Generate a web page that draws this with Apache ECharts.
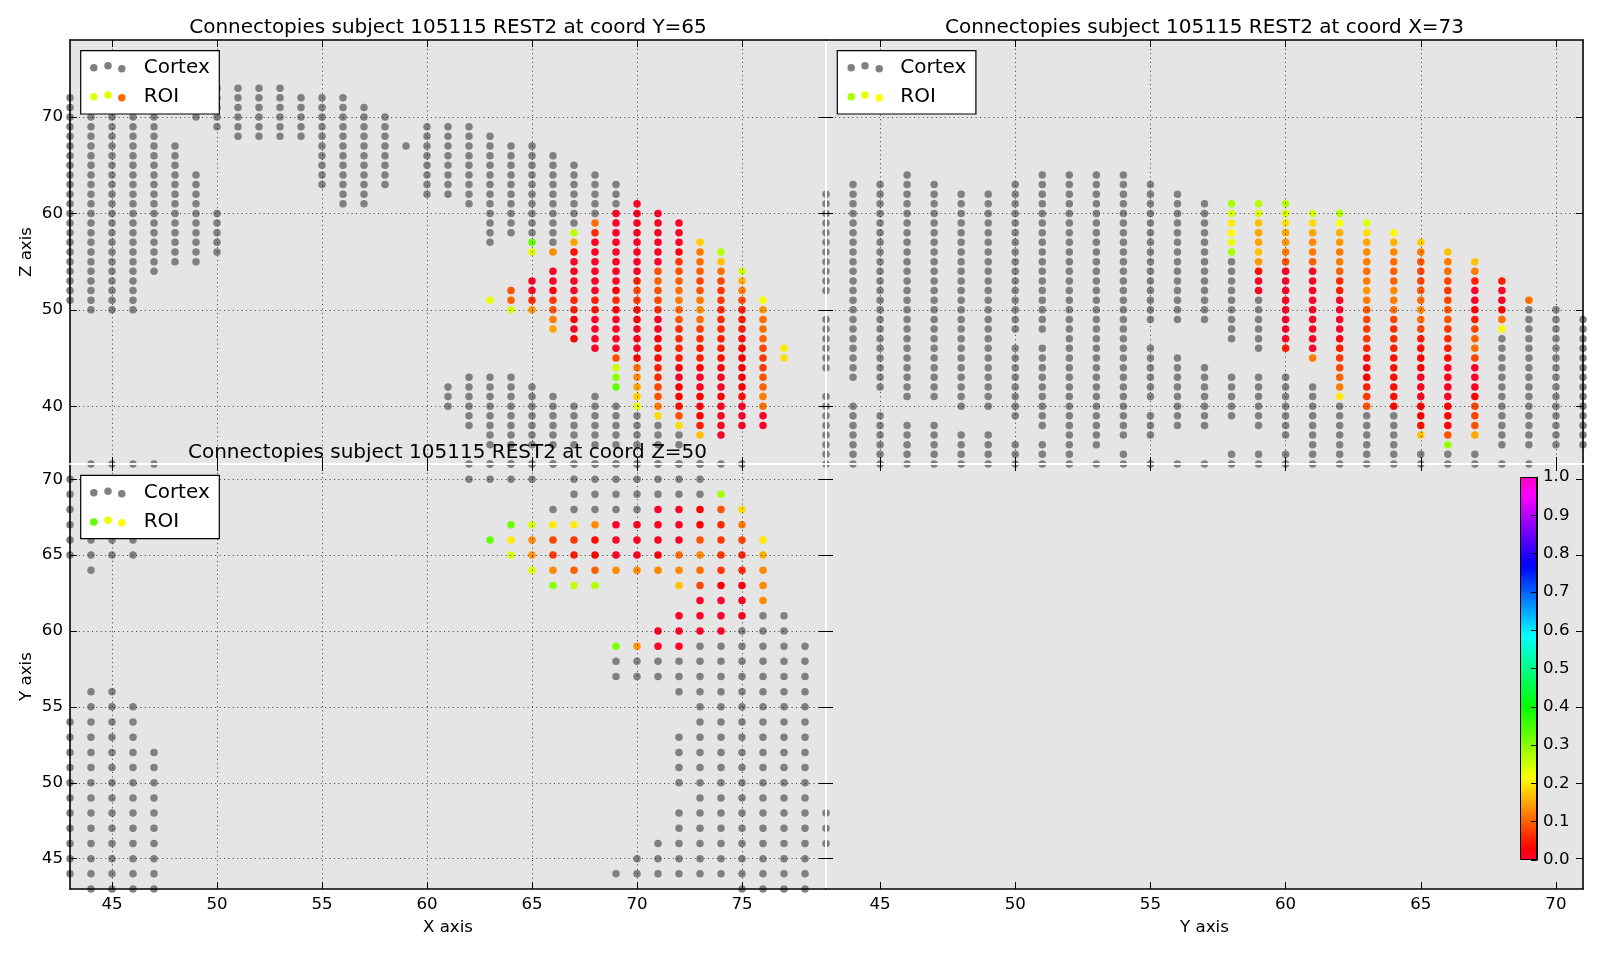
<!DOCTYPE html>
<html><head><meta charset="utf-8">
<style>html,body{margin:0;padding:0;background:#fff}#c{width:1600px;height:955px}</style>
<script src="https://cdn.jsdelivr.net/npm/echarts@6/dist/echarts.min.js"></script>
</head><body><div id="c"></div>
<script>
// ---- tick labels ----
const xTicks = [45,50,55,60,65,70,75];
const yTicks = [45,50,55,60,65,70];
const zTicks = [40,50,60,70];
const titles = ["Connectopies subject 105115 REST2 at coord Y=65","Connectopies subject 105115 REST2 at coord X=73","Connectopies subject 105115 REST2 at coord Z=50"];

// ---- cortex voxels: [column, [[from,to],...]] ----
const cortexXZ = [[43,[[51,72]]],[44,[[50,72]]],[45,[[50,70]]],[46,[[50,70]]],[47,[[54,70]]],[48,[[55,67]]],[49,[[55,64],[70,70]]],[50,[[56,60],[69,73]]],[51,[[68,73]]],[52,[[68,73]]],[53,[[68,73]]],[54,[[68,72]]],[55,[[63,72]]],[56,[[61,72]]],[57,[[61,71]]],[58,[[63,70]]],[59,[[67,67]]],[60,[[62,69]]],[61,[[62,69],[40,42]]],[62,[[61,69],[38,43]]],[63,[[57,68],[36,43],[34,34]]],[64,[[58,67],[36,43],[34,34]]],[65,[[58,67],[36,42],[34,34]]],[66,[[57,66],[36,41],[34,34]]],[67,[[59,65],[36,40],[34,34]]],[68,[[60,64],[36,41],[34,34]]],[69,[[61,63],[36,40],[34,34]]],[70,[[36,39],[34,34]]],[71,[[36,38],[34,34]]],[72,[[36,37],[34,34]]],[73,[[34,34]]],[74,[[34,34]]],[75,[[34,34]]]];
const cortexYZ = [[43,[[34,41],[44,49],[52,62]]],[44,[[34,40],[43,63]]],[45,[[34,39],[42,63]]],[46,[[34,38],[41,64]]],[47,[[34,38],[41,63]]],[48,[[34,37],[40,62]]],[49,[[34,37],[40,62]]],[50,[[34,36],[39,46],[48,63]]],[51,[[34,36],[38,46],[48,64]]],[52,[[34,64]]],[53,[[34,34],[36,64]]],[54,[[34,35],[37,64]]],[55,[[34,34],[37,39],[41,46],[49,63]]],[56,[[34,34],[38,45],[49,62]]],[57,[[34,34],[38,44],[49,61]]],[58,[[34,35],[39,43],[47,55]]],[59,[[34,35],[38,43],[46,51]]],[60,[[34,35],[37,43]]],[61,[[34,42]]],[62,[[34,40]]],[63,[[34,39]]],[64,[[34,39]]],[65,[[34,35]]],[66,[[34,35]]],[67,[[34,35]]],[68,[[34,34],[36,47]]],[69,[[34,34],[36,50]]],[70,[[36,50]]],[71,[[36,49]]]];
const cortexXY = [[43,[[44,54],[65,70]]],[44,[[43,56],[64,71]]],[45,[[43,56],[65,71]]],[46,[[43,55],[65,71]]],[47,[[43,52],[71,71]]],[62,[[70,71]]],[63,[[70,71]]],[64,[[70,71]]],[65,[[70,71]]],[66,[[68,68],[71,71]]],[67,[[68,71]]],[68,[[68,71]]],[69,[[44,44],[57,58],[68,71]]],[70,[[44,45],[57,58],[68,71]]],[71,[[44,46],[57,58],[69,71]]],[72,[[44,48],[50,53],[56,58],[69,71]]],[73,[[44,59],[69,71]]],[74,[[44,59]]],[75,[[43,60]]],[76,[[43,61]]],[77,[[43,61]]],[78,[[43,59]]],[79,[[46,48]]]];

// ---- ROI connectopy values: [column, top row, values going down] ----
const roiXZ = [[63,51,[.23]],[64,52,[.09,.10,.24]],[65,57,[.33,.24,null,null,.002,.002,.06,.14]],[66,56,[.13,null,.002,.002,.02,.07,.09,.12,.15]],[67,58,[.26,.15,.04,.002,.002,.002,.002,.06,.05,.03,.002,.03]],[68,59,[.11,.06,.002,.002,.002,.002,.002,.002,.05,.04,.002,.002,.002,.002]],[69,60,[.002,.002,.002,.002,.002,.002,.002,.002,.03,.06,.03,.002,.002,.002,.002,.09,.25,.30,.33]],[70,61,[.002,.002,.002,.002,.002,.002,.002,.002,.05,.08,.07,.04,.02,.002,.002,.002,.03,.11,.13,.15,.18,.23]],[71,60,[.002,.002,.002,.002,.002,.002,.09,.10,.09,.08,.06,.002,.002,.03,.04,.04,.05,.06,.08,.09,.12,.19]],[72,59,[.002,.002,.002,.02,.07,.09,.10,.11,.12,.10,.09,.06,.06,.06,.05,.03,.002,.03,.03,.04,.09,.19]],[73,57,[.18,.12,.11,.10,.08,.09,.12,.13,.11,.07,.06,.05,.05,.03,.002,.002,.03,.02,.03,.05,.17]],[74,56,[.27,.17,.11,.08,.07,.07,.06,.06,.06,.05,.05,.04,.02,.002,.002,.03,.002,.002,.002,.002]],[75,54,[.25,.16,.12,.08,.05,.05,.05,.04,.03,.03,.03,.02,.03,.04,.002,.002,.002]],[76,51,[.22,.14,.11,.11,.10,.08,.07,.07,.09,.10,.12,.11,.002,.002]],[77,46,[.20,.19]]];
const roiYZ = [[58,61,[.28,.24,.20,.21,.23,.28]],[59,61,[.27,.24,.17,.15,.15,.17,.14,.04,.002,.002]],[60,61,[.27,.24,.19,.15,.14,.12,.09,.002,.002,.002,.002,.002,.002,.002,.002,.05]],[61,60,[.25,.19,.15,.13,.12,.10,.002,.002,.002,.002,.002,.002,.002,.002,.002,.12]],[62,60,[.27,.22,.16,.14,.12,.12,.10,.06,.05,.002,.002,.002,.002,.02,.05,.07,.08,.10,.12,.20]],[63,59,[.24,.19,.15,.13,.12,.11,.12,.14,.12,.09,.08,.07,.07,.06,.04,.02,.03,.05,.07,.09]],[64,58,[.21,.16,.13,.11,.10,.10,.13,.12,.11,.08,.06,.06,.05,.04,.04,.04,.04,.04,.035]],[65,57,[.18,.12,.09,.08,.08,.09,.11,.13,.11,.08,.05,.04,.03,.03,.002,.002,.002,.03,.03,.04,.17]],[66,56,[.17,.12,.11,.08,.07,.08,.09,.09,.07,.06,.05,.04,.002,.002,.002,.002,.03,.03,.02,.09,.29]],[67,55,[.17,.12,.05,.002,.002,.03,.05,.08,.10,.11,.08,.002,.002,.002,.03,.08,.08,.09,.15]],[68,53,[.05,.002,.002,.03,.11,.21]],[69,51,[.11]]];
// rows: [y, first x, values going right]
const roiXY = [[69,74,[.28]],[68,71,[.002,.002,.03,.09,.19]],[67,64,[.32,.25,.20,.20,.13,.002,.002,.002,.002,.03,.06,.12]],[66,63,[.33,.20,.13,.08,.07,.04,.002,.002,.002,.002,.09,.07,.08,.20]],[65,64,[.24,.14,.07,.05,.03,.002,.002,.03,.11,.13,.07,.06,.16]],[64,65,[.24,.13,.10,.10,.13,.13,.13,.13,.11,.07,.06,.13]],[63,66,[.30,.26,.27,null,null,null,.17,.08,.03,.02,.13]],[62,73,[.002,.002,.002,.13]],[61,72,[.002,.002,.002,.002]],[60,71,[.002,.002,.002,.002]],[59,69,[.31,.14,.002,.002]]];

// ---- gist_rainbow colormap anchors ----
const cmapAnchors = [[0,1,0,.16],[.03,1,0,0],[.215,1,1,0],[.4,0,1,0],[.586,0,1,1],[.77,0,0,1],[.954,1,0,1],[1,1,0,.75]];
function rgb(r,g,b){return 'rgb('+Math.round(r*255)+','+Math.round(g*255)+','+Math.round(b*255)+')';}
function cmap(v){
  for(let i=1;i<cmapAnchors.length;i++){
    const a=cmapAnchors[i-1],b=cmapAnchors[i];
    if(v<=b[0]){const t=(v-a[0])/(b[0]-a[0]);return rgb(a[1]+(b[1]-a[1])*t,a[2]+(b[2]-a[2])*t,a[3]+(b[3]-a[3])*t);}
  }
  return rgb(1,0,.75);
}
function expandCortex(list){const o=[];list.forEach(([c,runs])=>runs.forEach(([a,b])=>{for(let r=a;r<=b;r++)o.push([c,r]);}));return o;}
function expandRoiCols(list){const o=[];list.forEach(([c,top,vals])=>vals.forEach((v,i)=>{if(v!==null)o.push([c,top-i,v]);}));return o;}
function expandRoiRows(list){const o=[];list.forEach(([r,first,vals])=>vals.forEach((v,i)=>{if(v!==null)o.push([first+i,r,v]);}));return o;}

const FONT='DejaVu Sans';
const grids=[],xAxes=[],yAxes=[],series=[];
function panel(g,xr,yr,xt,yt,o){
  const gi=grids.length;
  grids.push({left:g[0],top:g[1],width:g[2],height:g[3],show:true,backgroundColor:'#e5e5e5',borderWidth:0});
  const mk=(dim,range,ticks,pos,col,labels,grid,name)=>({
    type:'value',gridIndex:gi,position:pos,min:range[0],max:range[1],z:5,
    name:name||'',nameLocation:'middle',nameGap:dim==='x'?30:35,
    nameTextStyle:{fontFamily:FONT,fontSize:16.67,color:'#000'},
    axisLine:{show:true,onZero:false,lineStyle:{color:col,width:1.6}},
    axisTick:{show:true,inside:true,length:7,customValues:ticks,lineStyle:{color:'#000',width:1}},
    axisLabel:{show:!!labels,margin:7,customValues:ticks,fontFamily:FONT,fontSize:16.67,color:'#000',hideOverlap:false,showMinLabel:true,showMaxLabel:true,padding:dim==='y'?[2,0,0,0]:0},
    splitLine:{show:!!grid,lineStyle:{color:'#111',width:0.8,type:[1,3.4]}}
  });
  const xi=xAxes.length,yi=yAxes.length;
  xAxes.push(mk('x',xr,xt,'bottom',o.bottom,o.xLabels,o.grid,o.xName));
  xAxes.push(mk('x',xr,xt,'top',o.top,false,false));
  yAxes.push(mk('y',yr,yt,'left',o.left,o.yLabels,o.grid,o.yName));
  yAxes.push(mk('y',yr,yt,'right',o.right,false,false));
  if(o.cortex)series.push({type:'scatter',name:'Cortex',xAxisIndex:xi,yAxisIndex:yi,data:o.cortex,symbolSize:7.5,z:2,silent:true,animation:false,itemStyle:{color:'#808080',opacity:1}});
  if(o.roi)series.push({type:'scatter',name:'ROI',xAxisIndex:xi,yAxisIndex:yi,data:o.roi,symbolSize:7.5,z:3,silent:true,animation:false,itemStyle:{opacity:1,color:p=>cmap(p.value[2])}});
}
panel([70,40,756,424],[43,79],[34,78],xTicks,zTicks,{bottom:'#fff',top:'#000',left:'#000',right:'#fff',yLabels:true,grid:true,yName:'Z axis',cortex:expandCortex(cortexXZ),roi:expandRoiCols(roiXZ)});
panel([826,40,757,424],[43,71],[34,78],yTicks,zTicks,{bottom:'#fff',top:'#000',left:'#fff',right:'#000',grid:true,cortex:expandCortex(cortexYZ),roi:expandRoiCols(roiYZ)});
panel([70,464,756,425],[43,79],[43,71],xTicks,yTicks,{bottom:'#000',top:'#fff',left:'#000',right:'#fff',xLabels:true,yLabels:true,grid:true,xName:'X axis',yName:'Y axis',cortex:expandCortex(cortexXY),roi:expandRoiRows(roiXY)});
panel([826,464,757,425],[43,71],[43,71],yTicks,yTicks,{bottom:'#000',top:'#fff',left:'#fff',right:'#000',xLabels:true,xName:'Y axis'});

// colour bar
const cbGrid=grids.length;
grids.push({left:1520,top:477,width:17,height:383,show:false});
xAxes.push({type:'category',gridIndex:cbGrid,data:[''],show:false});
yAxes.push({type:'value',gridIndex:cbGrid,position:'right',min:0,max:1,interval:.1,z:5,
  axisLine:{show:true,lineStyle:{color:'#000',width:1}},
  axisTick:{show:true,inside:true,length:6,lineStyle:{color:'#000'}},
  axisLabel:{margin:6,fontFamily:FONT,fontSize:16.67,color:'#000',formatter:v=>v.toFixed(1)},splitLine:{show:false}});
series.push({type:'bar',xAxisIndex:xAxes.length-1,yAxisIndex:yAxes.length-1,data:[1],barWidth:'100%',silent:true,animation:false,
  itemStyle:{opacity:1,borderColor:'#000',borderWidth:1,color:new echarts.graphic.LinearGradient(0,1,0,0,cmapAnchors.map(a=>({offset:a[0],color:rgb(a[1],a[2],a[3])})))}});

// legends
function legendBox(x,y,dotsX,dotsY,colors,textY){
  const els=[{type:'rect',z:20,shape:{x:x,y:y,width:138.6,height:63.3},style:{fill:'#fff',stroke:'#000',lineWidth:1.2}}];
  dotsY.forEach((ys,row)=>ys.forEach((dy,i)=>els.push({type:'circle',z:21,shape:{cx:dotsX[i],cy:dy,r:3.75},style:{fill:row===0?'#808080':colors[i]}})));
  ['Cortex','ROI'].forEach((t,i)=>els.push({type:'text',z:21,x:x+63,y:textY[i],style:{text:t,fill:'#000',font:'20px "DejaVu Sans"',verticalAlign:'middle'}}));
  return els;
}
const graphics=[].concat(
  legendBox(80.7,50.7,[93.8,108,121.8],[[67.7,65.7,68.7],[96.7,95,97.7]],['#ddff00','#e4ff00','#ff6a00'],[67.3,96.6]),
  legendBox(837.3,50.7,[851.2,865,879.2],[[67.7,65.7,68.7],[96.7,95,97.7]],['#aaff00','#e8ff00','#ffff00'],[67.3,96.6]),
  legendBox(80.7,475.3,[93.8,108,121.8],[[492.7,491.3,493.7],[522,520.3,522.7]],['#66ff00','#e8ff00','#ffff00'],[493.2,522])
);

const chart=echarts.init(document.getElementById('c'),null,{renderer:'canvas'});
chart.setOption({
  animation:false,backgroundColor:'#fff',
  title:titles.map((t,i)=>({text:t,left:[443,1199.5,442.5][i],top:[13,13,438][i],textAlign:'center',z:30,textStyle:{fontFamily:FONT,fontSize:20,fontWeight:'normal',color:'#000'}})),
  grid:grids,xAxis:xAxes,yAxis:yAxes,series:series,graphic:graphics
});
</script></body></html>
